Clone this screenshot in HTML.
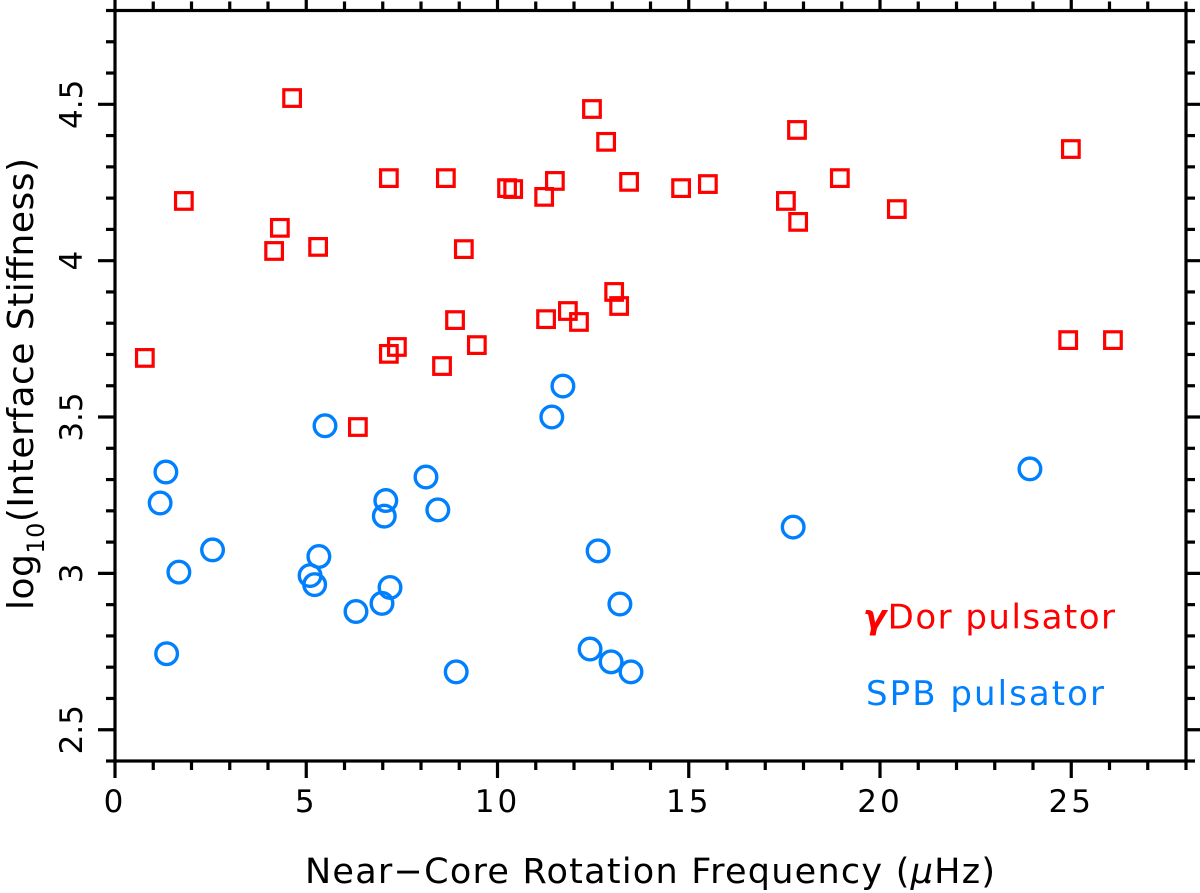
<!DOCTYPE html>
<html lang="en">
<head>
<meta charset="utf-8">
<title>Interface Stiffness vs Near-Core Rotation Frequency</title>
<style>
html,body{margin:0;padding:0;background:#fff;width:1200px;height:893px;overflow:hidden}
svg{display:block}
text{font-family:"DejaVu Sans","Liberation Sans",sans-serif}
</style>
</head>
<body>
<svg id="chart" xmlns="http://www.w3.org/2000/svg" width="1200" height="893" viewBox="0 0 1200 893">
  <rect x="0" y="0" width="1200" height="893" fill="#fff"/>
  <g id="ticks" stroke="#000" stroke-width="3.2"></g>
  <rect x="115" y="10.5" width="1071" height="750.5" fill="none" stroke="#000" stroke-width="3.2"/>
  <g id="tick-labels" font-size="31" fill="#000"></g>
  <g id="red-series"></g>
  <g id="blue-series"></g>
  <text x="305" y="883" font-size="35" fill="#000" textLength="690" lengthAdjust="spacing">Near−Core Rotation Frequency (<tspan font-style="italic">μ</tspan>Hz)</text>
  <text transform="translate(33,610) rotate(-90)" font-size="36" fill="#000" textLength="452" lengthAdjust="spacing">log<tspan font-size="24" dy="11">10</tspan><tspan dy="-11">(Interface Stiffness)</tspan></text>
  <text x="863" y="628.5" font-size="34" fill="#ff0000" textLength="252" lengthAdjust="spacing"><tspan font-weight="bold" font-style="italic">γ</tspan>Dor pulsator</text>
  <text x="866" y="705" font-size="34" fill="#0080ff" textLength="238" lengthAdjust="spacing">SPB pulsator</text>
</svg>
<script>
const xTickLabels = ["0", "5", "10", "15", "20", "25"];
const yTickLabels = ["2.5", "3", "3.5", "4", "4.5"];
const redX = [0.78, 1.80, 4.16, 4.31, 4.63, 5.31, 6.35, 7.16, 7.37, 7.16, 8.55, 8.65, 8.89, 9.12, 9.46, 10.25, 10.41, 11.22, 11.27, 11.50, 11.84, 12.13, 12.47, 12.84, 13.05, 13.18, 13.44, 14.80, 15.50, 17.54, 17.83, 17.86, 18.95, 20.44, 24.92, 24.99, 26.09];
const redY = [3.689, 4.191, 4.031, 4.105, 4.520, 4.044, 3.468, 3.702, 3.724, 4.264, 3.663, 4.264, 3.810, 4.037, 3.730, 4.232, 4.229, 4.204, 3.813, 4.255, 3.839, 3.804, 4.485, 4.380, 3.900, 3.855, 4.252, 4.232, 4.245, 4.191, 4.418, 4.124, 4.264, 4.165, 3.746, 4.357, 3.746];
const blueX = [1.33, 1.18, 1.67, 2.55, 1.35, 5.33, 5.10, 5.22, 5.49, 6.30, 6.98, 7.19, 7.08, 7.04, 8.13, 8.44, 8.92, 11.42, 11.71, 12.63, 12.42, 12.97, 13.20, 13.49, 17.73, 23.92];
const blueY = [3.324, 3.225, 3.004, 3.075, 2.743, 3.054, 2.993, 2.964, 3.472, 2.878, 2.904, 2.955, 3.233, 3.183, 3.308, 3.203, 2.685, 3.500, 3.599, 3.072, 2.758, 2.717, 2.902, 2.685, 3.148, 3.334];

const SVGNS = 'http://www.w3.org/2000/svg';
const xScale = v => 115 + (v - 0) * (1071 / 28);
const yScale = v => 761 - (v - 2.4) * (750.5 / 2.4);

function line(parent, x1, y1, x2, y2) {
  const l = document.createElementNS(SVGNS, 'line');
  l.setAttribute('x1', x1);
  l.setAttribute('y1', y1);
  l.setAttribute('x2', x2);
  l.setAttribute('y2', y2);
  
  
  parent.appendChild(l);
}

const tickGroup = document.getElementById('ticks');
for (let i = 0; i <= 28; i++) {
  const x = xScale(i);
  const len = i % 5 === 0 ? 17 : 9;
  line(tickGroup, x, 761, x, 761 + len);
  line(tickGroup, x, 10.5, x, 10.5 - len);
}
for (let i = 24; i <= 48; i++) {
  const y = yScale(i / 10);
  const len = i % 5 === 0 ? 17 : 9;
  line(tickGroup, 115, y, 115 - len, y);
  line(tickGroup, 1186, y, 1186 + len, y);
}

const labelGroup = document.getElementById('tick-labels');
xTickLabels.forEach(t => {
  const el = document.createElementNS(SVGNS, 'text');
  el.setAttribute('x', xScale(parseFloat(t)));
  el.setAttribute('y', 812);
  el.setAttribute('text-anchor', 'middle');
  el.setAttribute('letter-spacing', '3');
  
  
  el.textContent = t;
  labelGroup.appendChild(el);
});
yTickLabels.forEach(t => {
  const el = document.createElementNS(SVGNS, 'text');
  el.setAttribute('transform', 'translate(82,' + yScale(parseFloat(t)) + ') rotate(-90)');
  el.setAttribute('text-anchor', 'middle');
  
  
  el.textContent = t;
  labelGroup.appendChild(el);
});

const redGroup = document.getElementById('red-series');
redX.forEach((v, i) => {
  const s = document.createElementNS(SVGNS, 'rect');
  const size = 16.6;
  s.setAttribute('x', xScale(v) - size / 2);
  s.setAttribute('y', yScale(redY[i]) - size / 2);
  s.setAttribute('width', size);
  s.setAttribute('height', size);
  s.setAttribute('fill', 'none');
  s.setAttribute('stroke', '#ff0000');
  s.setAttribute('stroke-width', '3.2');
  
  
  redGroup.appendChild(s);
});

const blueGroup = document.getElementById('blue-series');
blueX.forEach((v, i) => {
  const c = document.createElementNS(SVGNS, 'circle');
  c.setAttribute('cx', xScale(v));
  c.setAttribute('cy', yScale(blueY[i]));
  c.setAttribute('r', 10.8);
  c.setAttribute('fill', 'none');
  c.setAttribute('stroke', '#0080ff');
  c.setAttribute('stroke-width', '3.4');
  
  
  blueGroup.appendChild(c);
});
</script>
</body>
</html>
